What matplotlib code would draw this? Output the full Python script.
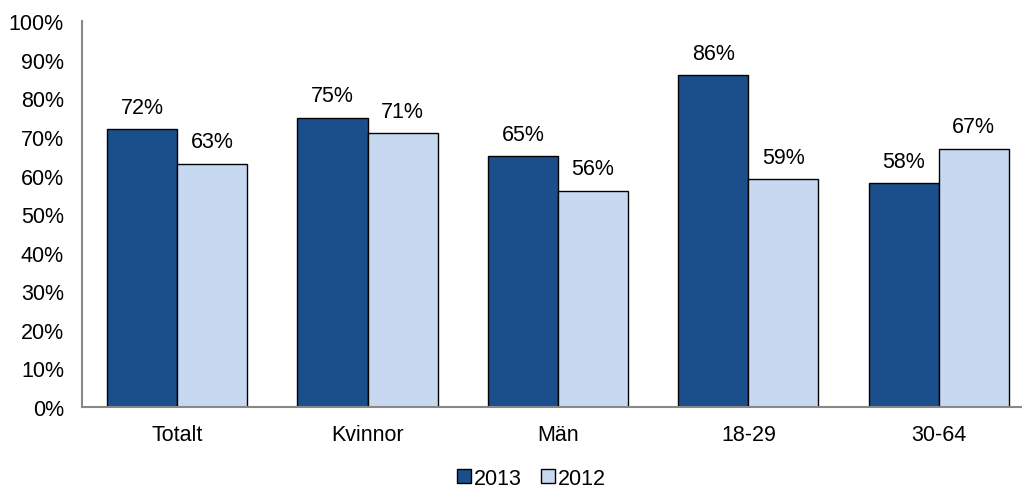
import numpy as np
import matplotlib.pyplot as plt

plt.rcParams['font.family'] = ['Liberation Sans', 'DejaVu Sans']

kategorier = ['Totalt', 'Kvinnor', 'Män', '18-29', '30-64']
ar2013 = [72, 75, 65, 86, 58]
ar2012 = [63, 71, 56, 59, 67]
yticks = [0, 10, 20, 30, 40, 50, 60, 70, 80, 90, 100]

fs = 15.5
fig = plt.figure(figsize=(10.22, 4.89), dpi=100)
# plot area runs a bit past the right edge, like the original
ax = fig.add_axes([0.0802, 0.1656, 0.9315, 0.789])

x = np.arange(len(kategorier))
w = 0.368
b1 = ax.bar(x - w / 2, ar2013, w, color='#1b4f8c', edgecolor='black', linewidth=1, label='2013')
b2 = ax.bar(x + w / 2, ar2012, w, color='#c6d9f0', edgecolor='black', linewidth=1, label='2012')

for bars, vals in [(b1, ar2013), (b2, ar2012)]:
    for b, v in zip(bars, vals):
        ax.text(b.get_x() + b.get_width() / 2, v + 3, f'{v}%', ha='center', va='bottom', fontsize=fs)

ax.set_xlim(-0.5, len(kategorier) - 0.5)
ax.set_ylim(0, 100)
ax.set_yticks(yticks)
ax.set_yticklabels([f'{t}%' for t in yticks], fontsize=fs)
ax.set_xticks(x)
ax.set_xticklabels(kategorier, fontsize=fs)
ax.tick_params(axis='y', length=0, pad=13)
ax.tick_params(axis='x', length=0, pad=12)
for s in ['top', 'right']:
    ax.spines[s].set_visible(False)
for s in ['left', 'bottom']:
    ax.spines[s].set_color('#888888')
    ax.spines[s].set_linewidth(1.5)

fig.legend(loc='center', ncol=2, frameon=False, fontsize=fs, bbox_to_anchor=(0.52, 0.02),
           handlelength=0.65, handleheight=0.65, handletextpad=0.15, columnspacing=0.9)

fig.savefig('out.png', dpi=100)
